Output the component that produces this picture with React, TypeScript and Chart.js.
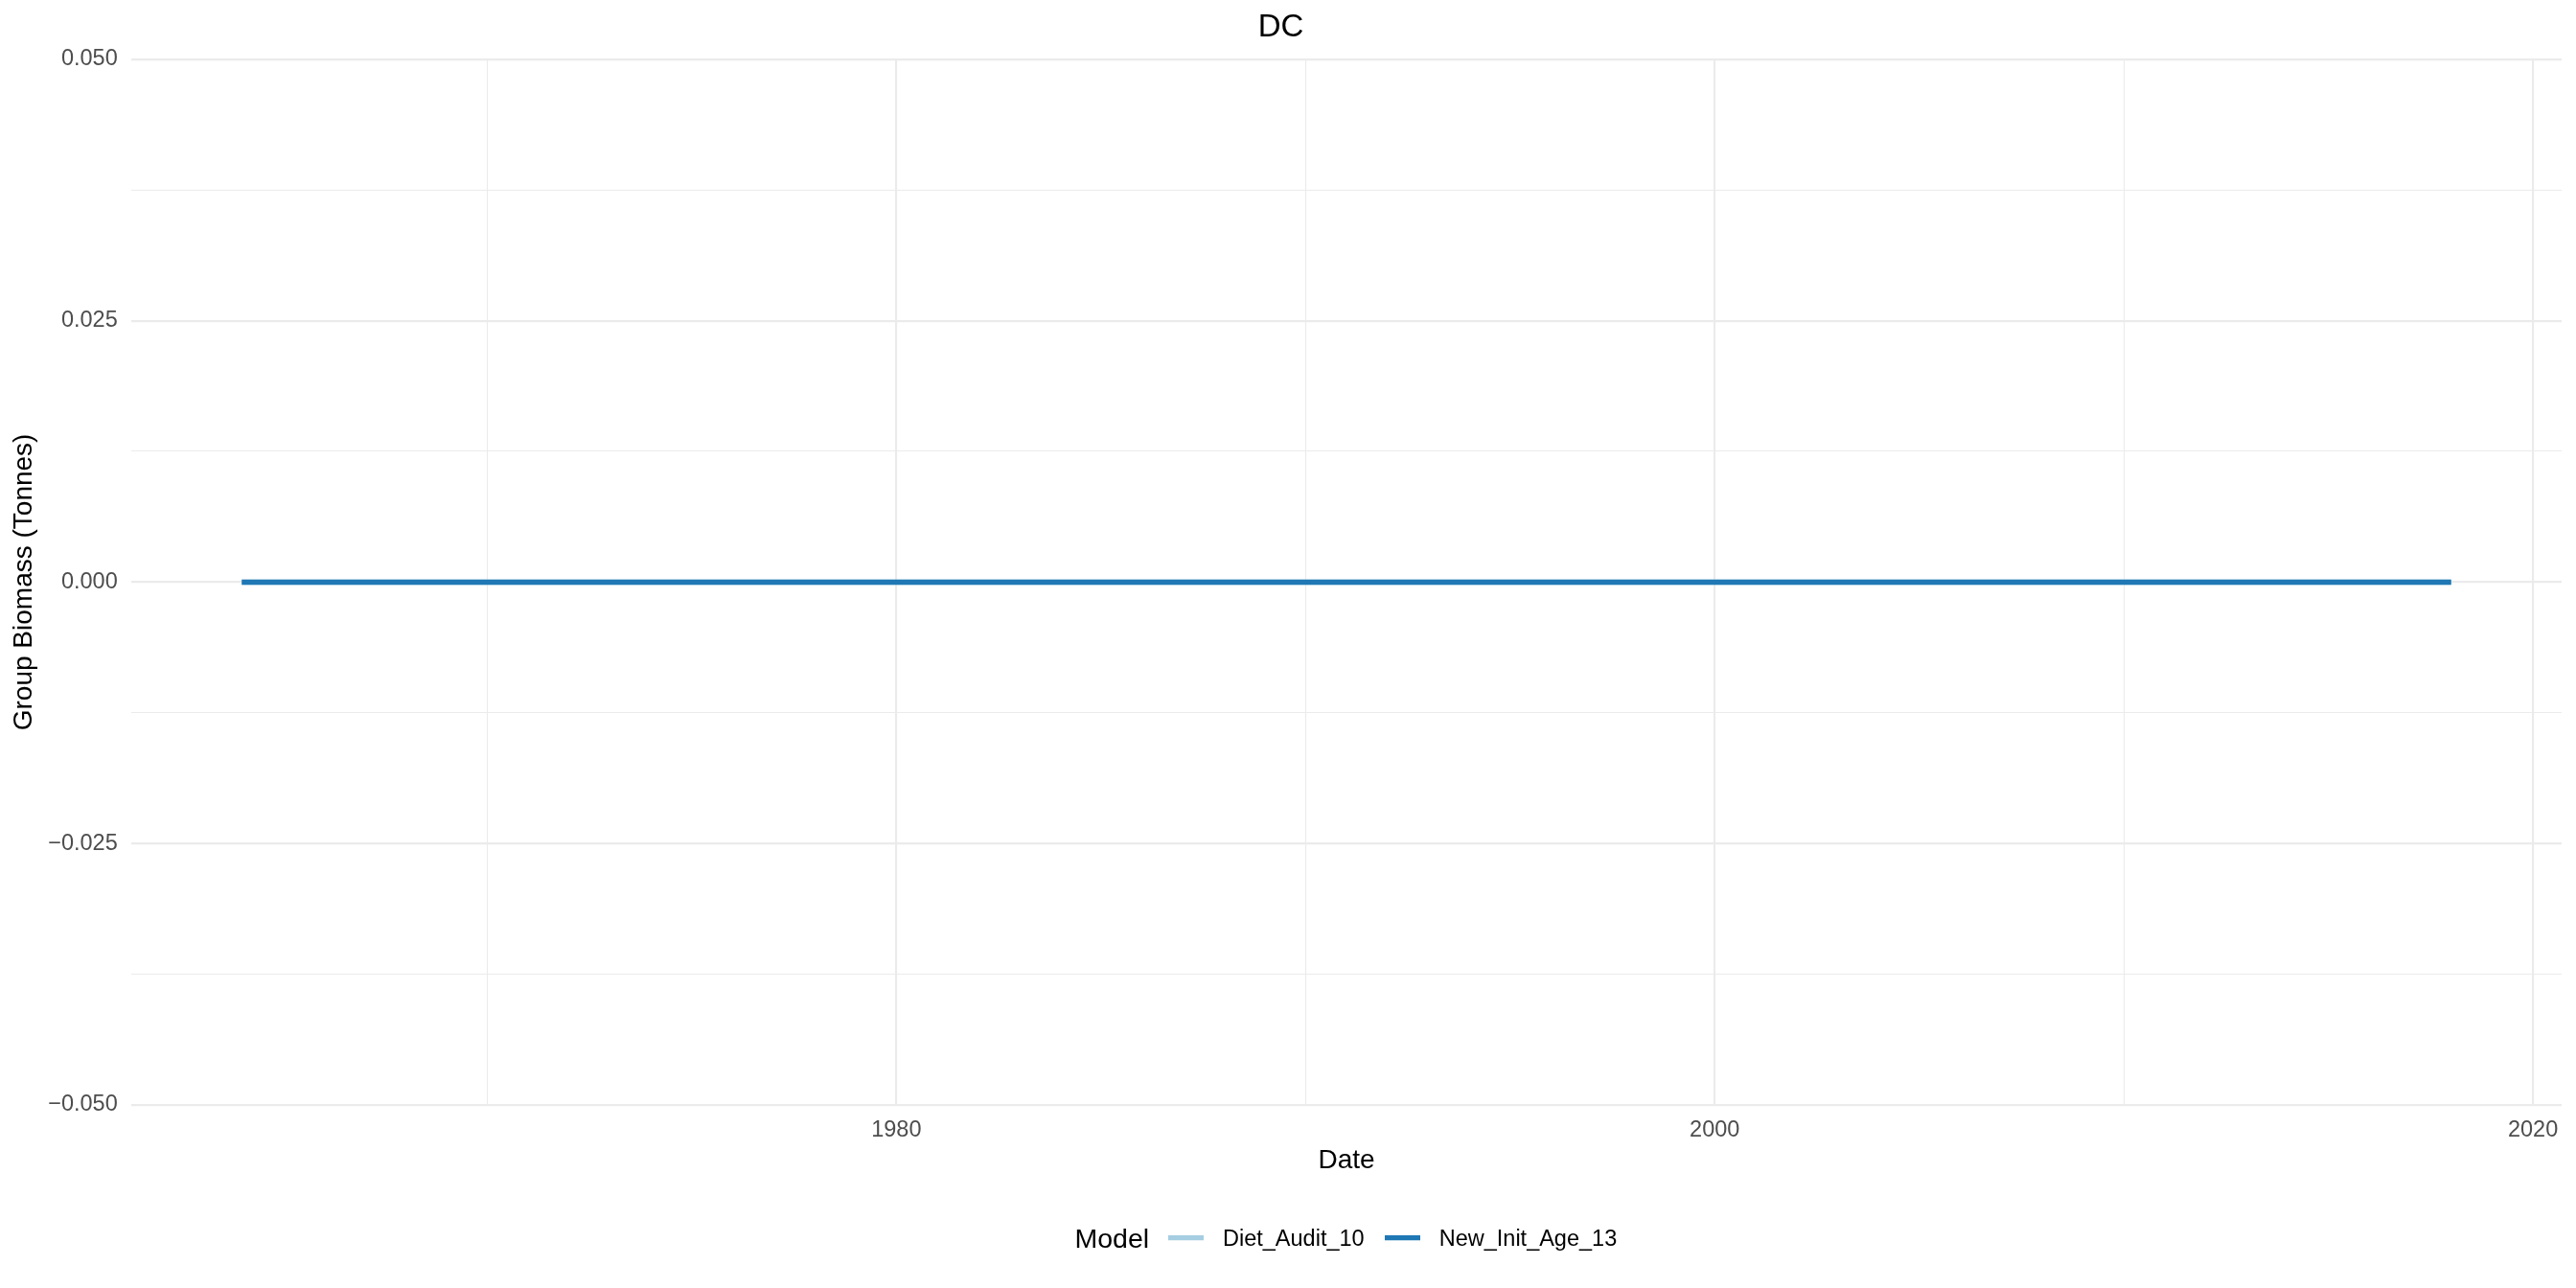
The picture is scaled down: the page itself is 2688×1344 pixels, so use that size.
import React, { useEffect, useRef } from "react";
import { Chart, registerables } from "chart.js";

Chart.register(...registerables);

const years: number[] = [
  1964, 1965, 1966, 1967, 1968, 1969, 1970, 1971, 1972, 1973, 1974, 1975, 1976, 1977,
  1978, 1979, 1980, 1981, 1982, 1983, 1984, 1985, 1986, 1987, 1988, 1989, 1990, 1991,
  1992, 1993, 1994, 1995, 1996, 1997, 1998, 1999, 2000, 2001, 2002, 2003, 2004, 2005,
  2006, 2007, 2008, 2009, 2010, 2011, 2012, 2013, 2014, 2015, 2016, 2017, 2018,
];
const dietAudit10: number[] = [
  0, 0, 0, 0, 0, 0, 0, 0, 0, 0, 0, 0, 0, 0,
  0, 0, 0, 0, 0, 0, 0, 0, 0, 0, 0, 0, 0, 0,
  0, 0, 0, 0, 0, 0, 0, 0, 0, 0, 0, 0, 0, 0,
  0, 0, 0, 0, 0, 0, 0, 0, 0, 0, 0, 0, 0,
];
const newInitAge13: number[] = [
  0, 0, 0, 0, 0, 0, 0, 0, 0, 0, 0, 0, 0, 0,
  0, 0, 0, 0, 0, 0, 0, 0, 0, 0, 0, 0, 0, 0,
  0, 0, 0, 0, 0, 0, 0, 0, 0, 0, 0, 0, 0, 0,
  0, 0, 0, 0, 0, 0, 0, 0, 0, 0, 0, 0, 0,
];
const seriesNames: string[] = ["Diet_Audit_10", "New_Init_Age_13"];
const seriesColors: string[] = ["#A6CEE3", "#1F78B4"];
const xTickValues: number[] = [1970, 1980, 1990, 2000, 2010, 2020];
const xMajorTicks: number[] = [1980, 2000, 2020];
const yTickValues: number[] = [-0.05, -0.0375, -0.025, -0.0125, 0, 0.0125, 0.025, 0.0375, 0.05];
const yMajorStep = 0.025;

const FONT = "'Liberation Sans', Arial, sans-serif";
const GRID = "#EBEBEB";

const isYMajor = (v: number) => Math.abs(v / yMajorStep - Math.round(v / yMajorStep)) < 1e-6;
const fmtY = (v: number) => {
  const s = Math.abs(v).toFixed(3);
  return v < -1e-12 ? "\u2212" + s : s;
};

const legendPlugin = {
  id: "ggLegend",
  afterDraw(chart: any) {
    const ctx = chart.ctx as CanvasRenderingContext2D;
    ctx.save();
    const drawText = (text: string, x: number, y: number, size: number) => {
      ctx.font = `${size}px ${FONT}`;
      ctx.fillStyle = "#000000";
      ctx.textBaseline = "alphabetic";
      ctx.textAlign = "left";
      ctx.fillText(text, x, y);
    };
    drawText("Model", 1121.5, 1301.7, 28.5);
    const swatchX = [1219, 1445];
    const labelX = [1276, 1501.7];
    seriesNames.forEach((name, i) => {
      ctx.strokeStyle = seriesColors[i];
      ctx.lineWidth = 5.3;
      ctx.lineCap = "butt";
      ctx.beginPath();
      ctx.moveTo(swatchX[i], 1291.7);
      ctx.lineTo(swatchX[i] + 37, 1291.7);
      ctx.stroke();
      drawText(name, labelX[i], 1300, 23.5);
    });
    ctx.restore();
  },
};

export default function App() {
  const ref = useRef<HTMLCanvasElement | null>(null);

  useEffect(() => {
    if (!ref.current) return;
    const chart = new Chart(ref.current, {
      type: "line",
      data: {
        datasets: [
          {
            label: seriesNames[0],
            data: years.map((y, i) => ({ x: y, y: dietAudit10[i] })),
            borderColor: seriesColors[0],
            backgroundColor: seriesColors[0],
            borderWidth: 5.5,
            pointRadius: 0,
            fill: false,
            order: 2,
          },
          {
            label: seriesNames[1],
            data: years.map((y, i) => ({ x: y, y: newInitAge13[i] })),
            borderColor: seriesColors[1],
            backgroundColor: seriesColors[1],
            borderWidth: 5.5,
            pointRadius: 0,
            fill: false,
            order: 1,
          },
        ],
      },
      options: {
        responsive: false,
        animation: false,
        devicePixelRatio: 1,
        layout: { padding: { left: 0, right: 15, top: 0, bottom: 0 } },
        plugins: {
          legend: { display: false },
          tooltip: { enabled: false },
          title: {
            display: true,
            text: "DC",
            color: "#000000",
            font: { family: FONT, size: 33, weight: "normal" },
            padding: { top: 9.6, bottom: 12.6 },
          },
        },
        scales: {
          x: {
            type: "linear",
            min: 1961.3,
            max: 2020.7,
            border: { display: false },
            grid: {
              color: GRID,
              drawTicks: false,
              lineWidth: (c: any) =>
                c.tick && xMajorTicks.includes(c.tick.value) ? 2.13 : 1.07,
            },
            afterBuildTicks: (scale: any) => {
              scale.ticks = xTickValues.map((v) => ({ value: v }));
            },
            afterFit: (scale: any) => {
              scale.height = 191;
            },
            ticks: {
              autoSkip: false,
              maxRotation: 0,
              minRotation: 0,
              padding: 12,
              color: "#4D4D4D",
              font: { family: FONT, size: 23.5 },
              callback: (v: any) => (xMajorTicks.includes(Number(v)) ? String(v) : ""),
            },
            title: {
              display: true,
              text: "Date",
              color: "#000000",
              font: { family: FONT, size: 28 },
              padding: { top: 0, bottom: 116.4 },
            },
          },
          y: {
            type: "linear",
            min: -0.05,
            max: 0.05,
            border: { display: false },
            grid: {
              color: GRID,
              drawTicks: false,
              lineWidth: (c: any) => (c.tick && isYMajor(c.tick.value) ? 2.13 : 1.07),
            },
            afterBuildTicks: (scale: any) => {
              scale.ticks = yTickValues.map((v) => ({ value: v }));
            },
            afterFit: (scale: any) => {
              scale.width = 137;
            },
            ticks: {
              autoSkip: false,
              padding: 14.3,
              color: "#4D4D4D",
              font: { family: FONT, size: 23.5 },
              callback: (v: any) => (isYMajor(Number(v)) ? fmtY(Number(v)) : ""),
            },
            title: {
              display: true,
              text: "Group Biomass (Tonnes)",
              color: "#000000",
              font: { family: FONT, size: 28 },
              padding: { top: 8.2, bottom: 0 },
            },
          },
        },
      },
      plugins: [legendPlugin],
    } as any);
    return () => chart.destroy();
  }, []);

  return (
    <div style={{ position: "fixed", left: 0, top: 0, width: 2688, height: 1344, background: "#FFFFFF" }}>
      <canvas ref={ref} width={2688} height={1344} style={{ width: 2688, height: 1344, display: "block" }} />
    </div>
  );
}
